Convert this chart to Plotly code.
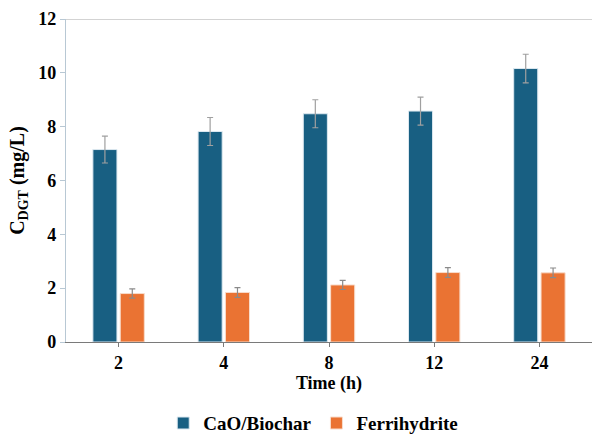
import plotly.graph_objects as go

times = ["2", "4", "8", "12", "24"]
cao_biochar = [7.15, 7.82, 8.48, 8.58, 10.16]
cao_biochar_err = [0.50, 0.52, 0.52, 0.52, 0.53]
ferrihydrite = [1.80, 1.84, 2.12, 2.58, 2.57]
ferrihydrite_err = [0.17, 0.18, 0.17, 0.18, 0.18]

font_family = "Liberation Serif"

fig = go.Figure()
fig.add_trace(go.Bar(
    x=times, y=cao_biochar, name="<b>CaO/Biochar</b>",
    marker=dict(color="#185f82", line=dict(color="#dce8f0", width=1)),
    error_y=dict(type="data", array=cao_biochar_err, visible=True,
                 color="#a0a0a0", thickness=1.2, width=3),
))
fig.add_trace(go.Bar(
    x=times, y=ferrihydrite, name="<b>Ferrihydrite</b>",
    marker=dict(color="#ea7333", line=dict(color="#f8dccb", width=1)),
    error_y=dict(type="data", array=ferrihydrite_err, visible=True,
                 color="#8a8a8a", thickness=1.2, width=3),
))

fig.add_shape(type="line", xref="paper", yref="y", x0=0, x1=1, y0=12, y1=12,
              line=dict(color="#c4c4c4", width=1.5), layer="below")

fig.update_layout(
    width=592, height=434,
    margin=dict(l=66, r=0, t=19, b=92, autoexpand=False),
    paper_bgcolor="white", plot_bgcolor="white",
    barmode="group", bargap=0.48, bargroupgap=0.12,
    font=dict(family=font_family, size=18, color="black"),
    showlegend=True,
    legend=dict(orientation="h", x=0.47, xanchor="center", xref="paper",
                y=0.025, yanchor="middle", yref="container",
                font=dict(family=font_family, size=19, color="black"),
                itemwidth=30, traceorder="normal", tracegroupgap=0),
    xaxis=dict(
        type="category",
        showline=True, linecolor="#7a7a7a", linewidth=1.2,
        ticks="outside", ticklen=4, tickcolor="#7a7a7a",
        tickfont=dict(family=font_family, size=18, color="black", weight="bold"),
        title=dict(text="<b>Time (h)</b>", font=dict(family=font_family, size=18), standoff=4),
        showgrid=False, automargin=False,
    ),
    yaxis=dict(
        range=[0, 12], dtick=2,
        showline=True, linecolor="#b8c8d4", linewidth=1.2,
        ticks="outside", ticklen=5, tickcolor="#b8c8d4",
        tickfont=dict(family=font_family, size=18, color="black", weight="bold"),
        title=dict(text="<b>C<sub>DGT</sub> (mg/L)</b>", font=dict(family=font_family, size=20), standoff=8),
        showgrid=False, zeroline=False, automargin=False,
    ),
)

fig.write_html("out.html")
